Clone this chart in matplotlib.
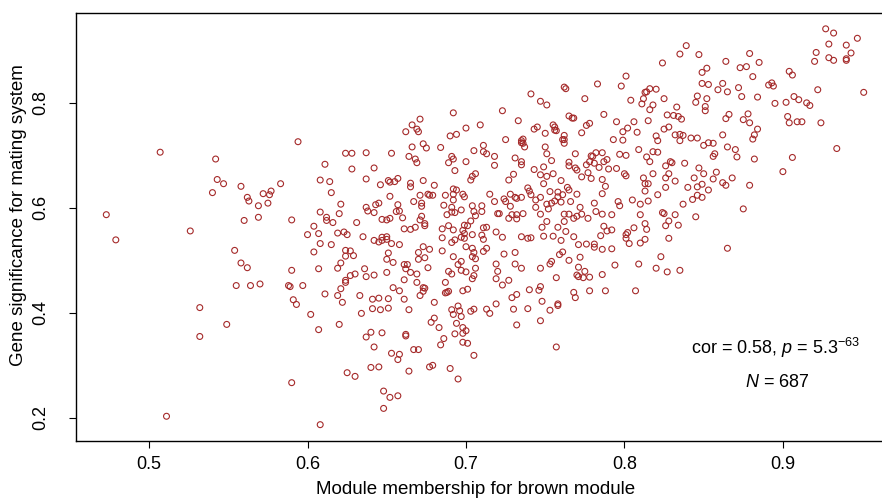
import numpy as np
import matplotlib
matplotlib.use("Agg")
import matplotlib.pyplot as plt

plt.rcParams['font.family'] = ['Liberation Sans', 'DejaVu Sans']
plt.rcParams['mathtext.fontset'] = 'custom'
plt.rcParams['mathtext.rm'] = 'Liberation Sans'
plt.rcParams['mathtext.it'] = 'Liberation Sans:italic'

# -----------------------------------------------------------------------
# Data: module membership (x) / gene significance (y)
# -----------------------------------------------------------------------

mm_top = [0.594, 0.692, 0.671, 0.666, 0.669, 0.670, 0.662, 0.700, 0.709, 0.690,
          0.694, 0.673, 0.675, 0.666, 0.684,
          0.824, 0.801, 0.798, 0.783, 0.762, 0.763, 0.741, 0.775, 0.747, 0.751,
          0.813, 0.814, 0.816, 0.820, 0.804, 0.812, 0.811, 0.818, 0.816, 0.825,
          0.723, 0.765, 0.767, 0.768, 0.787, 0.733, 0.795, 0.806, 0.815, 0.827,
          0.776, 0.778, 0.755, 0.756, 0.756, 0.757, 0.743, 0.745, 0.750, 0.773,
          0.802, 0.799, 0.808, 0.825, 0.828, 0.820, 0.762, 0.761, 0.762, 0.762,
          0.725, 0.736, 0.735, 0.735, 0.736, 0.737, 0.711, 0.750, 0.793, 0.799,
          0.821, 0.809]
gs_top = [0.726, 0.781, 0.769, 0.758, 0.750, 0.745, 0.745, 0.752, 0.758, 0.737,
          0.740, 0.722, 0.714, 0.716, 0.715,
          0.876, 0.851, 0.832, 0.836, 0.830, 0.827, 0.817, 0.808, 0.803, 0.796,
          0.820, 0.821, 0.827, 0.826, 0.805, 0.808, 0.798, 0.796, 0.787, 0.808,
          0.785, 0.775, 0.771, 0.771, 0.778, 0.766, 0.764, 0.764, 0.766, 0.777,
          0.757, 0.761, 0.758, 0.754, 0.748, 0.747, 0.750, 0.754, 0.742, 0.743,
          0.752, 0.745, 0.744, 0.750, 0.754, 0.737, 0.738, 0.730, 0.730, 0.723,
          0.730, 0.731, 0.728, 0.724, 0.723, 0.716, 0.719, 0.716, 0.730, 0.729,
          0.728, 0.711]

mm_topright = [0.927, 0.932, 0.947, 0.929, 0.940, 0.839, 0.835, 0.847, 0.879, 0.921,
               0.943, 0.929, 0.932, 0.940, 0.940, 0.920, 0.864, 0.885, 0.873, 0.877,
               0.852, 0.849, 0.904, 0.906, 0.881, 0.849, 0.853, 0.862, 0.891, 0.893,
               0.894, 0.872, 0.859, 0.865, 0.922, 0.951, 0.846, 0.874, 0.884, 0.852,
               0.845, 0.907, 0.910, 0.895, 0.902, 0.915, 0.917, 0.833, 0.851, 0.851,
               0.831, 0.834, 0.836, 0.866, 0.864, 0.878, 0.875, 0.879, 0.903, 0.904,
               0.909, 0.912, 0.924, 0.884, 0.832, 0.835, 0.837, 0.835, 0.842, 0.846,
               0.862, 0.882, 0.881, 0.850, 0.853, 0.856, 0.865, 0.870, 0.934]
gs_topright = [0.941, 0.933, 0.923, 0.912, 0.910, 0.909, 0.893, 0.892, 0.894, 0.896,
               0.895, 0.886, 0.881, 0.884, 0.881, 0.879, 0.879, 0.877, 0.867, 0.869,
               0.866, 0.858, 0.860, 0.853, 0.850, 0.837, 0.835, 0.837, 0.834, 0.838,
               0.832, 0.829, 0.825, 0.821, 0.825, 0.820, 0.813, 0.812, 0.811, 0.808,
               0.801, 0.812, 0.806, 0.799, 0.801, 0.800, 0.795, 0.792, 0.793, 0.785,
               0.776, 0.774, 0.769, 0.778, 0.770, 0.779, 0.768, 0.762, 0.774, 0.762,
               0.764, 0.764, 0.762, 0.750, 0.739, 0.740, 0.738, 0.728, 0.733, 0.733,
               0.739, 0.739, 0.731, 0.719, 0.724, 0.723, 0.716, 0.711, 0.713]

mm_left = [0.507, 0.542, 0.543, 0.547, 0.558, 0.540, 0.562, 0.563, 0.572, 0.576,
           0.577, 0.583, 0.569, 0.575, 0.569, 0.560, 0.473, 0.526, 0.479, 0.554,
           0.558, 0.562, 0.555, 0.564, 0.570, 0.588, 0.589,
           0.532, 0.549, 0.532, 0.511]
gs_left = [0.706, 0.693, 0.654, 0.646, 0.641, 0.629, 0.620, 0.613, 0.627, 0.625,
           0.632, 0.646, 0.604, 0.609, 0.582, 0.576, 0.587, 0.556, 0.539, 0.519,
           0.495, 0.486, 0.452, 0.452, 0.455, 0.452, 0.450,
           0.410, 0.378, 0.355, 0.203]

mm_mid = [0.624, 0.628, 0.637, 0.653, 0.664, 0.668, 0.669, 0.691, 0.692, 0.689,
          0.700, 0.705, 0.611, 0.628, 0.642, 0.693, 0.608, 0.614, 0.637, 0.651,
          0.652, 0.655, 0.657, 0.646, 0.665, 0.665, 0.673, 0.680, 0.703, 0.704,
          0.706, 0.615, 0.652, 0.671, 0.676, 0.677, 0.679, 0.692, 0.694, 0.687,
          0.692, 0.692, 0.698, 0.699, 0.621, 0.637, 0.638, 0.643, 0.645, 0.642,
          0.657, 0.656, 0.658, 0.667, 0.672, 0.672, 0.686, 0.691, 0.697, 0.704,
          0.705, 0.608, 0.620, 0.612, 0.612, 0.616, 0.590, 0.631, 0.647, 0.650,
          0.652, 0.660, 0.671, 0.672, 0.674, 0.674, 0.688, 0.691, 0.693, 0.703,
          0.706, 0.604, 0.600, 0.607, 0.619, 0.623, 0.625, 0.635, 0.661, 0.665,
          0.668, 0.685, 0.689, 0.692, 0.699, 0.698, 0.701, 0.642, 0.645, 0.647,
          0.647, 0.650, 0.650, 0.653, 0.658, 0.685, 0.691, 0.693, 0.697, 0.699,
          0.699, 0.704, 0.615, 0.608, 0.604, 0.624, 0.624, 0.627, 0.629, 0.651,
          0.670, 0.673, 0.677, 0.685, 0.692, 0.700, 0.704, 0.705, 0.704, 0.621,
          0.619, 0.607, 0.650, 0.654, 0.661, 0.663, 0.662, 0.665, 0.669, 0.670,
          0.674, 0.676, 0.695, 0.697, 0.697, 0.689, 0.691, 0.700, 0.706, 0.706,
          0.636, 0.627, 0.630, 0.637, 0.642, 0.650, 0.624, 0.624, 0.661, 0.669,
          0.687, 0.704, 0.705, 0.597, 0.621, 0.654, 0.673, 0.674, 0.701, 0.590]
gs_mid = [0.704, 0.704, 0.705, 0.704, 0.698, 0.693, 0.686, 0.698, 0.693, 0.686,
          0.688, 0.709, 0.683, 0.674, 0.676, 0.671, 0.653, 0.650, 0.655, 0.652,
          0.649, 0.650, 0.656, 0.644, 0.647, 0.640, 0.652, 0.643, 0.653, 0.660,
          0.665, 0.629, 0.622, 0.624, 0.626, 0.624, 0.624, 0.636, 0.634, 0.624,
          0.626, 0.615, 0.626, 0.621, 0.607, 0.601, 0.594, 0.606, 0.609, 0.591,
          0.606, 0.593, 0.594, 0.612, 0.609, 0.603, 0.605, 0.601, 0.596, 0.604,
          0.593, 0.592, 0.589, 0.582, 0.576, 0.572, 0.577, 0.572, 0.578, 0.577,
          0.580, 0.581, 0.577, 0.584, 0.570, 0.566, 0.587, 0.592, 0.591, 0.575,
          0.585, 0.565, 0.549, 0.551, 0.552, 0.554, 0.549, 0.545, 0.560, 0.559,
          0.563, 0.560, 0.566, 0.558, 0.567, 0.557, 0.566, 0.538, 0.535, 0.544,
          0.538, 0.545, 0.540, 0.532, 0.530, 0.543, 0.534, 0.539, 0.544, 0.551,
          0.542, 0.549, 0.530, 0.532, 0.516, 0.519, 0.508, 0.518, 0.509, 0.514,
          0.515, 0.526, 0.521, 0.518, 0.507, 0.526, 0.523, 0.515, 0.507, 0.495,
          0.485, 0.484, 0.502, 0.496, 0.492, 0.492, 0.484, 0.477, 0.474, 0.502,
          0.505, 0.486, 0.492, 0.498, 0.481, 0.479, 0.474, 0.478, 0.503, 0.485,
          0.484, 0.471, 0.474, 0.469, 0.472, 0.477, 0.462, 0.458, 0.463, 0.458,
          0.458, 0.465, 0.471, 0.452, 0.446, 0.448, 0.448, 0.447, 0.445, 0.481]

mm_right = [0.711, 0.713, 0.718, 0.718, 0.731, 0.735, 0.735, 0.751, 0.754, 0.769,
            0.779, 0.780, 0.782, 0.786, 0.797, 0.801, 0.814, 0.816, 0.818, 0.821,
            0.826, 0.743, 0.749, 0.747, 0.751, 0.755, 0.749, 0.760, 0.765, 0.765,
            0.769, 0.770, 0.776, 0.778, 0.781, 0.784, 0.787, 0.789, 0.790, 0.795,
            0.777, 0.773, 0.779, 0.786, 0.788, 0.786, 0.800, 0.801, 0.812, 0.813,
            0.818, 0.826, 0.828, 0.815, 0.813, 0.821, 0.826, 0.727, 0.730, 0.739,
            0.740, 0.741, 0.715, 0.718, 0.724, 0.725, 0.728, 0.731, 0.732, 0.728,
            0.735, 0.744, 0.747, 0.753, 0.758, 0.758, 0.761, 0.765, 0.764, 0.770,
            0.766, 0.760, 0.756, 0.754, 0.751, 0.752, 0.747, 0.744, 0.710, 0.710,
            0.736, 0.732, 0.729, 0.727, 0.732, 0.721, 0.720, 0.772, 0.781, 0.782,
            0.786, 0.792, 0.777, 0.773, 0.770, 0.768, 0.765, 0.762, 0.762, 0.751,
            0.748, 0.758, 0.763, 0.755, 0.749, 0.741, 0.739, 0.735, 0.723, 0.719,
            0.713, 0.711, 0.710, 0.711, 0.713, 0.711, 0.796, 0.797, 0.805, 0.810,
            0.815, 0.824, 0.825, 0.828, 0.826, 0.813, 0.814, 0.810, 0.787, 0.789,
            0.792, 0.801, 0.802, 0.801, 0.803, 0.806, 0.810, 0.813, 0.828, 0.768,
            0.776, 0.781, 0.781, 0.786, 0.785, 0.792, 0.771, 0.760, 0.761, 0.759,
            0.772, 0.765, 0.754, 0.753, 0.747, 0.731, 0.731, 0.724, 0.719, 0.720,
            0.719, 0.727, 0.723, 0.735, 0.757, 0.771, 0.775, 0.770, 0.771, 0.774,
            0.778, 0.786, 0.794, 0.809, 0.820, 0.823, 0.827, 0.747, 0.740]
gs_right = [0.707, 0.703, 0.698, 0.681, 0.695, 0.688, 0.682, 0.703, 0.690, 0.703,
            0.699, 0.698, 0.705, 0.705, 0.702, 0.700, 0.697, 0.688, 0.707, 0.706,
            0.680, 0.673, 0.678, 0.663, 0.660, 0.665, 0.646, 0.652, 0.687, 0.680,
            0.676, 0.672, 0.682, 0.688, 0.685, 0.677, 0.688, 0.692, 0.674, 0.675,
            0.667, 0.659, 0.656, 0.654, 0.641, 0.627, 0.665, 0.661, 0.657, 0.646,
            0.665, 0.657, 0.665, 0.646, 0.632, 0.625, 0.639, 0.653, 0.664, 0.638,
            0.632, 0.625, 0.626, 0.612, 0.617, 0.612, 0.626, 0.620, 0.618, 0.603,
            0.620, 0.615, 0.620, 0.631, 0.630, 0.621, 0.625, 0.634, 0.639, 0.626,
            0.612, 0.611, 0.613, 0.609, 0.607, 0.598, 0.588, 0.601, 0.604, 0.593,
            0.589, 0.587, 0.587, 0.580, 0.579, 0.589, 0.589, 0.601, 0.609, 0.593,
            0.588, 0.587, 0.580, 0.588, 0.584, 0.580, 0.588, 0.588, 0.574, 0.574,
            0.563, 0.563, 0.555, 0.546, 0.546, 0.543, 0.542, 0.545, 0.544, 0.554,
            0.563, 0.562, 0.548, 0.540, 0.523, 0.517, 0.612, 0.604, 0.615, 0.607,
            0.613, 0.591, 0.589, 0.575, 0.566, 0.570, 0.559, 0.587, 0.565, 0.556,
            0.558, 0.549, 0.553, 0.542, 0.532, 0.562, 0.533, 0.540, 0.542, 0.545,
            0.531, 0.531, 0.525, 0.521, 0.547, 0.522, 0.530, 0.538, 0.516, 0.511,
            0.506, 0.500, 0.498, 0.493, 0.485, 0.515, 0.493, 0.512, 0.493, 0.479,
            0.465, 0.462, 0.453, 0.485, 0.467, 0.487, 0.479, 0.472, 0.469, 0.467,
            0.468, 0.473, 0.491, 0.493, 0.485, 0.507, 0.478, 0.450, 0.444]

mm_far = [0.829, 0.830, 0.838, 0.832, 0.847, 0.850, 0.858, 0.844, 0.856, 0.857,
          0.856, 0.871, 0.882, 0.906, 0.900, 0.868, 0.862, 0.864, 0.879, 0.849,
          0.846, 0.840, 0.853, 0.846, 0.849, 0.843, 0.837, 0.875, 0.832, 0.834,
          0.845, 0.865, 0.835]
gs_far = [0.688, 0.686, 0.685, 0.651, 0.676, 0.665, 0.668, 0.657, 0.655, 0.703,
          0.698, 0.697, 0.693, 0.696, 0.669, 0.657, 0.648, 0.643, 0.643, 0.645,
          0.640, 0.639, 0.634, 0.624, 0.620, 0.616, 0.607, 0.598, 0.587, 0.567,
          0.583, 0.523, 0.481]

mm_low = [0.591, 0.593, 0.611, 0.619, 0.622, 0.633, 0.641, 0.645, 0.651, 0.658,
          0.661, 0.671, 0.673, 0.687, 0.688, 0.689, 0.698, 0.641, 0.646, 0.651,
          0.664, 0.634, 0.602, 0.620, 0.607, 0.640, 0.637, 0.647, 0.662, 0.662,
          0.642, 0.653, 0.658, 0.657, 0.667, 0.670, 0.680, 0.680, 0.678, 0.683,
          0.686, 0.684, 0.691, 0.695, 0.696, 0.692, 0.697, 0.694, 0.698, 0.698,
          0.700, 0.693, 0.698, 0.701, 0.705, 0.703, 0.705, 0.625, 0.630, 0.640,
          0.645, 0.664, 0.677, 0.679, 0.690, 0.695, 0.648, 0.652, 0.657, 0.648,
          0.608, 0.590,
          0.713, 0.715, 0.719, 0.729, 0.732, 0.730, 0.739, 0.732, 0.747, 0.748,
          0.746, 0.753, 0.758, 0.758, 0.757, 0.768, 0.769, 0.778, 0.788, 0.807]
gs_low = [0.425, 0.416, 0.436, 0.433, 0.420, 0.433, 0.426, 0.428, 0.427, 0.442,
          0.426, 0.433, 0.441, 0.438, 0.439, 0.441, 0.442, 0.408, 0.406, 0.409,
          0.406, 0.399, 0.397, 0.378, 0.368, 0.363, 0.354, 0.362, 0.359, 0.356,
          0.335, 0.323, 0.321, 0.311, 0.330, 0.330, 0.420, 0.390, 0.382, 0.372,
          0.351, 0.339, 0.406, 0.413, 0.404, 0.397, 0.393, 0.380, 0.372, 0.361,
          0.366, 0.360, 0.344, 0.342, 0.319, 0.403, 0.407, 0.286, 0.279, 0.296,
          0.297, 0.289, 0.297, 0.300, 0.294, 0.274, 0.251, 0.239, 0.242, 0.218,
          0.187, 0.267,
          0.407, 0.399, 0.417, 0.429, 0.435, 0.407, 0.408, 0.377, 0.385, 0.422,
          0.443, 0.405, 0.417, 0.414, 0.335, 0.439, 0.429, 0.442, 0.442, 0.442]

mm = np.array(mm_top + mm_topright + mm_left + mm_mid + mm_right + mm_far + mm_low)
gs = np.array(gs_top + gs_topright + gs_left + gs_mid + gs_right + gs_far + gs_low)

cor_txt = "cor = 0.58, $\\it{p}$ = 5.3$^{-63}$"
n_txt = "$\\it{N}$ = 687"

# -----------------------------------------------------------------------
# Figure
# -----------------------------------------------------------------------

fig = plt.figure(figsize=(8.82, 4.98), dpi=100)
ax = fig.add_axes([76 / 882, 57.5 / 498, 818 / 882, 427.5 / 498])

ax.scatter(mm, gs, s=18, facecolors='none', edgecolors='#a52a2a', linewidths=0.8)

# R-style 4 % padding
xr = mm.max() - mm.min()
yr = gs.max() - gs.min()
ax.set_xlim(mm.min() - 0.04 * xr, mm.max() + 0.04 * xr)
ax.set_ylim(gs.min() - 0.04 * yr, gs.max() + 0.04 * yr)

ax.set_xticks([0.5, 0.6, 0.7, 0.8, 0.9])
ax.set_xticklabels(['0.5', '0.6', '0.7', '0.8', '0.9'])
ax.set_yticks([0.2, 0.4, 0.6, 0.8])
ax.set_yticklabels(['0.2', '0.4', '0.6', '0.8'], rotation=90, va='center')
ax.tick_params(length=5, width=0.8, labelsize=13)
ax.tick_params(axis='x', pad=6)
ax.tick_params(axis='y', pad=14)

for sp in ax.spines.values():
    sp.set_linewidth(1.0)
ax.spines['right'].set_visible(False)

ax.set_xlabel('Module membership for brown module', fontsize=13.5)
ax.set_ylabel('Gene significance for mating system', fontsize=13.5)
ax.xaxis.set_label_coords(0.488, -0.094, transform=ax.transAxes)
ax.yaxis.set_label_coords(-0.06, 0.527, transform=ax.transAxes)

ax.text(0.8956, 0.333, cor_txt, fontsize=13, ha='center', va='center')
ax.text(0.8965, 0.267, n_txt, fontsize=13, ha='center', va='center')

fig.savefig('out.png', dpi=100)
